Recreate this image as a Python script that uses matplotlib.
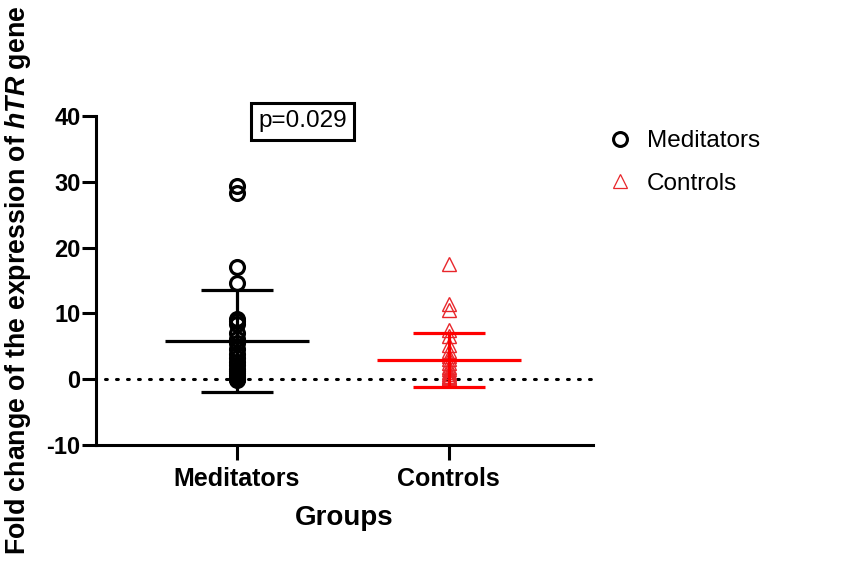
import matplotlib
matplotlib.use('Agg')
import matplotlib.pyplot as plt

plt.rcParams['font.family'] = ['Liberation Sans', 'DejaVu Sans']
plt.rcParams['mathtext.fontset'] = 'custom'
plt.rcParams['mathtext.bfit'] = 'Liberation Sans:italic:bold'
plt.rcParams['mathtext.rm'] = 'Liberation Sans:bold'

groups = ['Meditators', 'Controls']
meditators = [29.3, 28.3, 17.1, 14.6, 9.2, 8.8, 8.4, 7.0, 6.1, 5.5, 4.6, 3.8,
              3.2, 2.6, 2.1, 1.6, 1.2, 0.9, 0.6, 0.4, 0.2, 0.1, 0.0, -0.1]
controls = [17.5, 11.5, 10.5, 7.5, 6.5, 5.2, 4.3, 3.6, 3.0, 2.4, 1.9, 1.5,
            1.1, 0.8, 0.5, 0.3, 0.2, 0.1, 0.0]
means = [5.8, 2.85]
sds = [7.75, 4.1]
p_text = 'p=0.029'

colors = ['black', '#ff0000']
marker_edge = ['black', '#e8262b']

fig = plt.figure(figsize=(8.51, 5.62), dpi=100)
ax = fig.add_axes([0.1128, 0.2082, 0.584, 0.5854])

# scatter points
ax.plot([1] * len(meditators), meditators, 'o', ms=10, mfc='none',
        mec=marker_edge[0], mew=2.3, label=groups[0], zorder=3)
ax.plot([2] * len(controls), controls, '^', ms=10, mfc='none',
        mec=marker_edge[1], mew=1.0, label=groups[1], zorder=3)

# mean and SD bars
for i, (m, s) in enumerate(zip(means, sds)):
    x = i + 1
    c = colors[i]
    ax.hlines(m, x - 0.34, x + 0.34, color=c, lw=2.3, zorder=4)
    ax.vlines(x, m - s, m + s, color=c, lw=2.3, zorder=4)
    ax.hlines([m - s, m + s], x - 0.17, x + 0.17, color=c, lw=2.3, zorder=4)

ax.axhline(0, xmin=0.018, color='black', lw=2.2, linestyle=(0, (0.6, 3.0)),
           dash_capstyle='round', zorder=2)

ax.set_xlim(0.335, 2.68)
ax.set_ylim(-10, 40)
ax.set_xticks([1, 2])
ax.set_xticklabels(groups, fontsize=18, fontweight='bold')
ax.set_yticks([-10, 0, 10, 20, 30, 40])
ax.set_yticklabels(['-10', '0', '10', '20', '30', '40'], fontsize=17, fontweight='bold')
ax.tick_params(axis='y', width=2.2, length=10, pad=1)
ax.tick_params(axis='x', width=2.2, length=11, pad=5)

for sp in ['top', 'right']:
    ax.spines[sp].set_visible(False)
for sp in ['left', 'bottom']:
    ax.spines[sp].set_linewidth(2.2)

ax.set_xlabel('Groups', fontsize=20, fontweight='bold', labelpad=10)
ax.set_ylabel(r'Fold change of the expression of $\mathbfit{hTR}$ gene',
              fontsize=19.3, fontweight='bold', labelpad=10)

ax.text(1.31, 39.2, p_text, fontsize=17.5, ha='center', va='center',
        bbox=dict(boxstyle='square,pad=0.3', fc='white', ec='black', lw=2.2))

leg = fig.legend(loc='center left', bbox_to_anchor=(0.686, 0.711), frameon=False,
                 fontsize=17.5, handletextpad=0.5, labelspacing=0.85,
                 handlelength=1.2, markerscale=1.0)
for h in leg.legend_handles:
    h.set_markeredgewidth(2.2 if h.get_marker() == 'o' else 0.9)

fig.savefig('out.png', dpi=100)
